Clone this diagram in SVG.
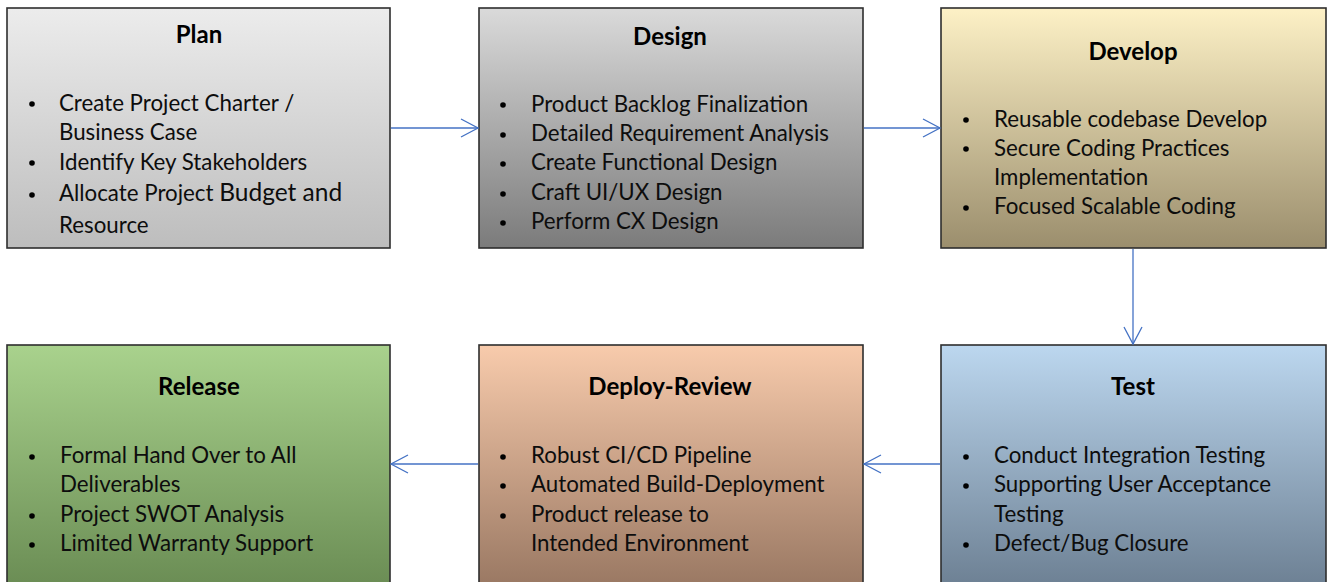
<svg xmlns="http://www.w3.org/2000/svg" width="1330" height="582" viewBox="0 0 1330 582">
<defs>
<linearGradient id="gPlan" x1="0" y1="0" x2="0" y2="1"><stop offset="0" stop-color="#ececec"/><stop offset="1" stop-color="#bdbdbd"/></linearGradient>
<linearGradient id="gDesign" x1="0" y1="0" x2="0" y2="1"><stop offset="0" stop-color="#dadada"/><stop offset="1" stop-color="#7b7b7b"/></linearGradient>
<linearGradient id="gDevelop" x1="0" y1="0" x2="0" y2="1"><stop offset="0" stop-color="#fdf1c6"/><stop offset="1" stop-color="#9b8e6d"/></linearGradient>
<linearGradient id="gRelease" x1="0" y1="0" x2="0" y2="1"><stop offset="0" stop-color="#a9d28d"/><stop offset="1" stop-color="#688a52"/></linearGradient>
<linearGradient id="gDeploy" x1="0" y1="0" x2="0" y2="1"><stop offset="0" stop-color="#f8cbac"/><stop offset="1" stop-color="#967560"/></linearGradient>
<linearGradient id="gTest" x1="0" y1="0" x2="0" y2="1"><stop offset="0" stop-color="#bcd7ef"/><stop offset="1" stop-color="#6a7d90"/></linearGradient>
<marker id="ah" markerWidth="20" markerHeight="20" refX="18" refY="10" orient="auto" markerUnits="userSpaceOnUse">
<path d="M1,1 L18,10 L1,19" fill="none" stroke="#4472c4" stroke-width="1.3"/>
</marker>
</defs>
<style>
.box{stroke:#2e2e2e;stroke-width:1.6}
.title{font-family:Lato,"Liberation Sans",sans-serif;font-weight:bold;font-size:24px;fill:#000;text-anchor:middle}
.item{font-family:Lato,"Liberation Sans",sans-serif;font-size:22.3px;fill:#0d0d0d}
.dot{fill:#000}
.conn{stroke:#4472c4;stroke-width:1.3;fill:none}
</style>
<rect width="1330" height="582" fill="#fff"/>
<g id="plan">
<rect class="box" x="7" y="8" width="383" height="240" fill="url(#gPlan)"/>
<text class="title" x="199" y="43">Plan</text>
<circle class="dot" cx="32" cy="104" r="2.8"/>
<circle class="dot" cx="32" cy="163" r="2.8"/>
<circle class="dot" cx="32" cy="195" r="2.8"/>
<text class="item" x="59" y="111">Create Project Charter /</text>
<text class="item" x="59" y="140">Business Case</text>
<text class="item" x="59" y="170">Identify Key Stakeholders</text>
<text class="item" x="59" y="201">Allocate Project <tspan font-size="24.5">Budget and</tspan></text>
<text class="item" x="59" y="233" font-size="24.5">Resource</text>
</g>
<g id="design">
<rect class="box" x="479" y="8" width="384" height="240" fill="url(#gDesign)"/>
<text class="title" x="670" y="45">Design</text>
<circle class="dot" cx="503" cy="105" r="2.8"/>
<circle class="dot" cx="503" cy="135" r="2.8"/>
<circle class="dot" cx="503" cy="164" r="2.8"/>
<circle class="dot" cx="503" cy="194" r="2.8"/>
<circle class="dot" cx="503" cy="223" r="2.8"/>
<text class="item" x="531" y="112">Product Backlog Finalization</text>
<text class="item" x="531" y="141">Detailed Requirement Analysis</text>
<text class="item" x="531" y="170">Create Functional Design</text>
<text class="item" x="531" y="200">Craft UI/UX Design</text>
<text class="item" x="531" y="229">Perform CX Design</text>
</g>
<g id="develop">
<rect class="box" x="941" y="8" width="385" height="240" fill="url(#gDevelop)"/>
<text class="title" x="1133" y="60">Develop</text>
<circle class="dot" cx="966" cy="120" r="2.8"/>
<circle class="dot" cx="966" cy="149" r="2.8"/>
<circle class="dot" cx="966" cy="208" r="2.8"/>
<text class="item" x="994" y="127">Reusable codebase Develop</text>
<text class="item" x="994" y="156">Secure Coding Practices</text>
<text class="item" x="994" y="185">Implementation</text>
<text class="item" x="994" y="214">Focused Scalable Coding</text>
</g>
<g id="test">
<rect class="box" x="941" y="345" width="385" height="250" fill="url(#gTest)"/>
<text class="title" x="1133" y="395">Test</text>
<circle class="dot" cx="966" cy="457" r="2.8"/>
<circle class="dot" cx="966" cy="486" r="2.8"/>
<circle class="dot" cx="966" cy="545" r="2.8"/>
<text class="item" x="994" y="463">Conduct Integration Testing</text>
<text class="item" x="994" y="492">Supporting User Acceptance</text>
<text class="item" x="994" y="522">Testing</text>
<text class="item" x="994" y="551">Defect/Bug Closure</text>
</g>
<g id="deploy-review">
<rect class="box" x="479" y="345" width="384" height="250" fill="url(#gDeploy)"/>
<text class="title" x="670" y="395">Deploy-Review</text>
<circle class="dot" cx="503" cy="457" r="2.8"/>
<circle class="dot" cx="503" cy="486" r="2.8"/>
<circle class="dot" cx="503" cy="516" r="2.8"/>
<text class="item" x="531" y="463">Robust CI/CD Pipeline</text>
<text class="item" x="531" y="492">Automated Build-Deployment</text>
<text class="item" x="531" y="522">Product release to</text>
<text class="item" x="531" y="551">Intended Environment</text>
</g>
<g id="release">
<rect class="box" x="7" y="345" width="383" height="250" fill="url(#gRelease)"/>
<text class="title" x="199" y="395">Release</text>
<circle class="dot" cx="32" cy="457" r="2.8"/>
<circle class="dot" cx="32" cy="516" r="2.8"/>
<circle class="dot" cx="32" cy="545" r="2.8"/>
<text class="item" x="60" y="463">Formal Hand Over to All</text>
<text class="item" x="60" y="492">Deliverables</text>
<text class="item" x="60" y="522">Project SWOT Analysis</text>
<text class="item" x="60" y="551">Limited Warranty Support</text>
</g>
<g id="connectors">
<line class="conn" x1="391" y1="128" x2="478" y2="128" marker-end="url(#ah)"/>
<line class="conn" x1="864" y1="128" x2="940" y2="128" marker-end="url(#ah)"/>
<line class="conn" x1="1133" y1="249" x2="1133" y2="344" marker-end="url(#ah)"/>
<line class="conn" x1="940" y1="464" x2="864" y2="464" marker-end="url(#ah)"/>
<line class="conn" x1="478" y1="464" x2="391" y2="464" marker-end="url(#ah)"/>
</g>
</svg>
